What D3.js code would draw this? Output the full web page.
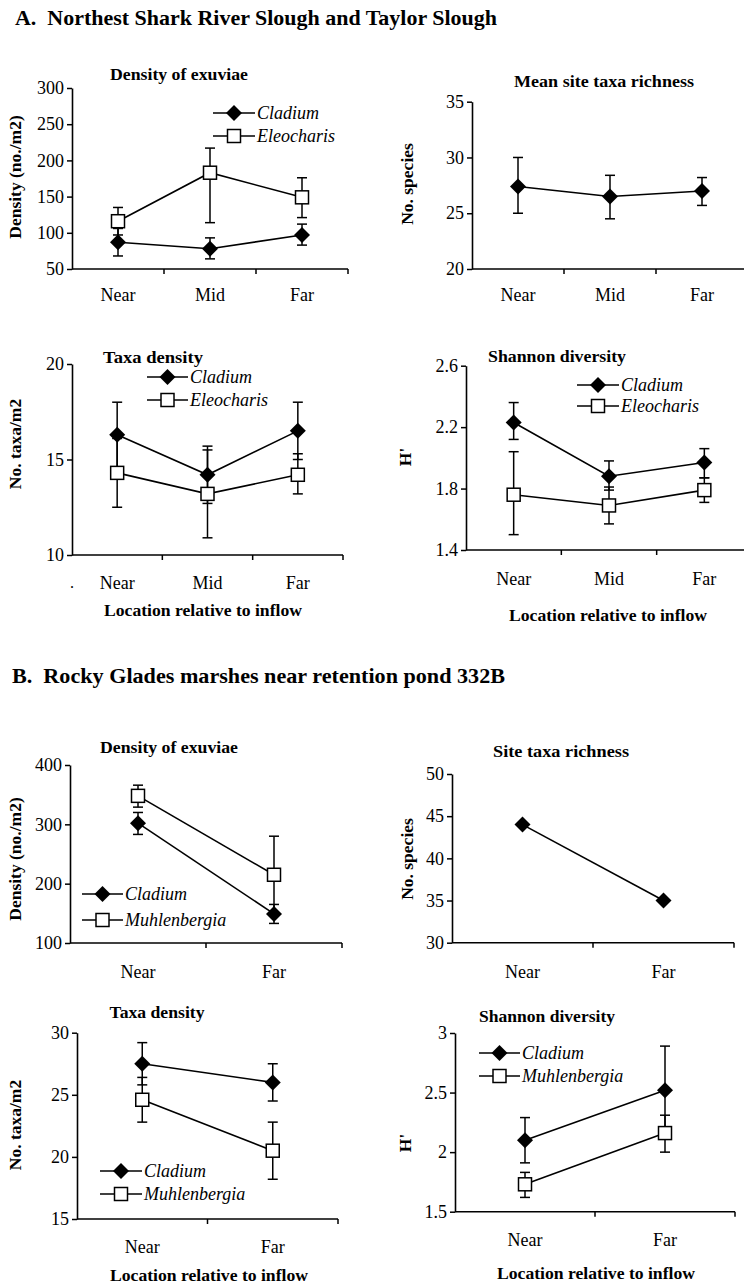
<!DOCTYPE html>
<html>
<head>
<meta charset="utf-8">
<script src="https://cdn.jsdelivr.net/npm/d3@7"></script>
<style>
  body { margin: 0; background: #fff; }
  svg { display: block; font-family: "Liberation Serif", "Times New Roman", serif; }
</style>
</head>
<body>
<div id="chart"></div>
<script>
// ---- data ----
const locA = ["Near", "Mid", "Far"];
const locB = ["Near", "Far"];

// A. Northest Shark River Slough and Taylor Slough
const densA_cladium = [87, 78, 97];
const densA_cladium_lo = [68, 64, 83];
const densA_cladium_hi = [106, 93, 112];
const densA_eleo = [116, 183, 149];
const densA_eleo_lo = [97, 114, 121];
const densA_eleo_hi = [135, 217, 176];

const richA = [27.4, 26.5, 27.0];
const richA_lo = [25.0, 24.5, 25.7];
const richA_hi = [30.0, 28.4, 28.2];

const taxaA_cladium = [16.3, 14.2, 16.5];
const taxaA_cladium_lo = [14.6, 12.7, 15.0];
const taxaA_cladium_hi = [18.0, 15.7, 18.0];
const taxaA_eleo = [14.3, 13.2, 14.2];
const taxaA_eleo_lo = [12.5, 10.9, 13.2];
const taxaA_eleo_hi = [16.1, 15.5, 15.3];

const shanA_cladium = [2.23, 1.88, 1.97];
const shanA_cladium_lo = [2.12, 1.79, 1.87];
const shanA_cladium_hi = [2.36, 1.98, 2.06];
const shanA_eleo = [1.76, 1.69, 1.79];
const shanA_eleo_lo = [1.50, 1.57, 1.71];
const shanA_eleo_hi = [2.04, 1.81, 1.87];

// B. Rocky Glades marshes near retention pond 332B
const densB_cladium = [302, 149];
const densB_cladium_lo = [283, 133];
const densB_cladium_hi = [320, 165];
const densB_muhl = [348, 215];
const densB_muhl_lo = [329, 150];
const densB_muhl_hi = [366, 280];

const richB = [44, 35];

const taxaB_cladium = [27.5, 26.0];
const taxaB_cladium_lo = [25.8, 24.5];
const taxaB_cladium_hi = [29.2, 27.5];
const taxaB_muhl = [24.6, 20.5];
const taxaB_muhl_lo = [22.8, 18.2];
const taxaB_muhl_hi = [26.4, 22.8];

const shanB_cladium = [2.10, 2.52];
const shanB_cladium_lo = [1.91, 2.16];
const shanB_cladium_hi = [2.29, 2.89];
const shanB_muhl = [1.73, 2.16];
const shanB_muhl_lo = [1.62, 2.00];
const shanB_muhl_hi = [1.83, 2.31];

// tick labels
const ticksDensA = [50, 100, 150, 200, 250, 300];
const ticksRichA = [20, 25, 30, 35];
const ticksTaxaA = [10, 15, 20];
const ticksShanA = [1.4, 1.8, 2.2, 2.6];
const labelsShanA = ["1.4", "1.8", "2.2", "2.6"];
const ticksDensB = [100, 200, 300, 400];
const ticksRichB = [30, 35, 40, 45, 50];
const ticksTaxaB = [15, 20, 25, 30];
const ticksShanB = [1.5, 2, 2.5, 3];
const labelsShanB = ["1.5", "2", "2.5", "3"];

// ---- layout ----
const width = 744, height = 1285;
const svg = d3.select("#chart").append("svg")
    .attr("width", width)
    .attr("height", height);

svg.append("text")
    .attr("x", 15).attr("y", 25)
    .attr("font-size", 22).attr("font-weight", "bold")
    .attr("textLength", 482).attr("lengthAdjust", "spacingAndGlyphs")
    .attr("xml:space", "preserve")
    .text("A.  Northest Shark River Slough and Taylor Slough");

svg.append("text")
    .attr("x", 12).attr("y", 683)
    .attr("font-size", 22).attr("font-weight", "bold")
    .attr("textLength", 493).attr("lengthAdjust", "spacingAndGlyphs")
    .attr("xml:space", "preserve")
    .text("B.  Rocky Glades marshes near retention pond 332B");

// stray dot in the scan
svg.append("text").attr("x", 70).attr("y", 588).attr("font-size", 16).text(".");

const diamond = (s) => `M0,${-s}L${s},0L0,${s}L${-s},0Z`;

const drawMarker = (g, kind, x, y) => {
  if (kind === "diamond") {
    g.append("path")
        .attr("d", diamond(8))
        .attr("transform", `translate(${x},${y})`)
        .attr("fill", "#000");
  } else {
    g.append("rect")
        .attr("x", x - 6.5).attr("y", y - 6.5)
        .attr("width", 13).attr("height", 13)
        .attr("fill", "#fff")
        .attr("stroke", "#000")
        .attr("stroke-width", 1.5);
  }
};

const drawPanel = (p) => {
  const g = svg.append("g");

  const x = d3.scaleBand().domain(p.cats).range([p.x0, p.x1]);
  const y = d3.scaleLinear().domain([p.ticks[0], p.ticks[p.ticks.length - 1]]).range([p.yBot, p.yTop]);

  // y axis
  const yAxis = g.append("g")
      .attr("transform", `translate(${p.x0},0)`)
      .call(d3.axisLeft(y)
        .tickValues(p.ticks)
        .tickSize(5)
        .tickSizeOuter(0)
        .tickPadding(3)
        .tickFormat((d, i) => p.tickLabels ? p.tickLabels[i] : d));
  yAxis.select(".domain").attr("stroke-width", 1.6);
  yAxis.selectAll(".tick line").attr("stroke-width", 1.5);
  yAxis.selectAll("text")
      .attr("font-family", "Liberation Serif")
      .attr("font-size", 18)
      .attr("fill", "#000");

  // x axis line with ticks between categories
  const boundaries = p.cats.map(c => x(c) + x.bandwidth());
  g.append("line")
      .attr("x1", p.x0).attr("x2", p.x1)
      .attr("y1", p.yBot).attr("y2", p.yBot)
      .attr("stroke", "#000").attr("stroke-width", 1.6);
  g.selectAll(".xtick")
      .data(boundaries)
      .join("line")
        .attr("class", "xtick")
        .attr("x1", d => d).attr("x2", d => d)
        .attr("y1", p.yBot).attr("y2", p.yBot + 5)
        .attr("stroke", "#000").attr("stroke-width", 1.5);
  g.selectAll(".xlab")
      .data(p.cats)
      .join("text")
        .attr("class", "xlab")
        .attr("x", d => x(d) + x.bandwidth() / 2)
        .attr("y", p.labY)
        .attr("text-anchor", "middle")
        .attr("font-size", 18)
        .text(d => d);

  // title
  g.append("text")
      .attr("x", p.title.x).attr("y", p.title.y)
      .attr("text-anchor", "middle")
      .attr("font-size", 17.5).attr("font-weight", "bold")
      .attr("textLength", p.title.len).attr("lengthAdjust", "spacingAndGlyphs")
      .text(p.title.text);

  // y label
  g.append("text")
      .attr("transform", `translate(${p.ylab.x},${p.ylab.y}) rotate(-90)`)
      .attr("text-anchor", "middle")
      .attr("dy", "0.35em")
      .attr("font-size", 17.5).attr("font-weight", "bold")
      .text(p.ylab.text);

  if (p.axTitle) {
    g.append("text")
        .attr("x", p.axTitle.x).attr("y", p.axTitle.y)
        .attr("text-anchor", "middle")
        .attr("font-size", 17.5).attr("font-weight", "bold")
        .attr("textLength", 198).attr("lengthAdjust", "spacingAndGlyphs")
        .text("Location relative to inflow");
  }

  const cx = c => x(c) + x.bandwidth() / 2;
  const line = d3.line().x(d => cx(d.cat)).y(d => y(d.v));

  p.series.forEach(s => {
    const pts = p.cats.map((c, i) => ({ cat: c, v: s.values[i], lo: s.lo ? s.lo[i] : null, hi: s.hi ? s.hi[i] : null }));

    // error bars
    pts.filter(d => d.lo !== null).forEach(d => {
      const xx = cx(d.cat);
      g.append("line")
          .attr("x1", xx).attr("x2", xx)
          .attr("y1", y(d.lo)).attr("y2", y(d.hi))
          .attr("stroke", "#000").attr("stroke-width", 1.5);
      [d.lo, d.hi].forEach(v => {
        g.append("line")
            .attr("x1", xx - 5).attr("x2", xx + 5)
            .attr("y1", y(v)).attr("y2", y(v))
            .attr("stroke", "#000").attr("stroke-width", 1.5);
      });
    });

    g.append("path")
        .datum(pts)
        .attr("d", line)
        .attr("fill", "none")
        .attr("stroke", "#000")
        .attr("stroke-width", 1.6);

    pts.forEach(d => drawMarker(g, s.marker, cx(d.cat), y(d.v)));
  });

  if (p.legend) {
    p.series.forEach((s, i) => {
      const ly = p.legend.y + i * p.legend.dy;
      g.append("line")
          .attr("x1", p.legend.x0).attr("x2", p.legend.x1)
          .attr("y1", ly).attr("y2", ly)
          .attr("stroke", "#000").attr("stroke-width", 1.6);
      drawMarker(g, s.marker, (p.legend.x0 + p.legend.x1) / 2, ly);
      g.append("text")
          .attr("x", p.legend.x1 + 2).attr("y", ly)
          .attr("dy", "0.35em")
          .attr("font-size", 18).attr("font-style", "italic")
          .text(s.name);
    });
  }
};

const cladium = (v, lo, hi) => ({ name: "Cladium", marker: "diamond", values: v, lo: lo, hi: hi });
const eleo = (v, lo, hi) => ({ name: "Eleocharis", marker: "square", values: v, lo: lo, hi: hi });
const muhl = (v, lo, hi) => ({ name: "Muhlenbergia", marker: "square", values: v, lo: lo, hi: hi });

const panels = [
  {
    cats: locA, x0: 72, x1: 348, yTop: 88, yBot: 269, ticks: ticksDensA, labY: 301,
    title: { text: "Density of exuviae", x: 179, y: 80, len: 138 },
    ylab: { text: "Density (no./m2)", x: 15, y: 177 },
    legend: { x0: 213, x1: 255, y: 113, dy: 23 },
    series: [cladium(densA_cladium, densA_cladium_lo, densA_cladium_hi), eleo(densA_eleo, densA_eleo_lo, densA_eleo_hi)]
  },
  {
    cats: locA, x0: 472, x1: 748, yTop: 101.7, yBot: 269, ticks: ticksRichA, labY: 301,
    title: { text: "Mean site taxa richness", x: 604, y: 87, len: 180 },
    ylab: { text: "No. species", x: 407, y: 184 },
    legend: null,
    series: [{ name: "", marker: "diamond", values: richA, lo: richA_lo, hi: richA_hi }]
  },
  {
    cats: locA, x0: 72, x1: 343, yTop: 364, yBot: 555, ticks: ticksTaxaA, labY: 589,
    title: { text: "Taxa density", x: 153, y: 363, len: 100 },
    ylab: { text: "No. taxa/m2", x: 15, y: 444 },
    axTitle: { x: 203, y: 616 },
    legend: { x0: 147, x1: 188, y: 377, dy: 23 },
    series: [cladium(taxaA_cladium, taxaA_cladium_lo, taxaA_cladium_hi), eleo(taxaA_eleo, taxaA_eleo_lo, taxaA_eleo_hi)]
  },
  {
    cats: locA, x0: 466, x1: 752, yTop: 365.7, yBot: 550, ticks: ticksShanA, tickLabels: labelsShanA, labY: 585,
    title: { text: "Shannon diversity", x: 557, y: 362, len: 138 },
    ylab: { text: "H'", x: 405, y: 457 },
    axTitle: { x: 608, y: 621 },
    legend: { x0: 577, x1: 619, y: 385, dy: 21 },
    series: [cladium(shanA_cladium, shanA_cladium_lo, shanA_cladium_hi), eleo(shanA_eleo, shanA_eleo_lo, shanA_eleo_hi)]
  },
  {
    cats: locB, x0: 70, x1: 342, yTop: 765, yBot: 943, ticks: ticksDensB, labY: 978,
    title: { text: "Density of exuviae", x: 169, y: 753, len: 138 },
    ylab: { text: "Density (no./m2)", x: 15, y: 859 },
    legend: { x0: 82, x1: 123, y: 894, dy: 26 },
    series: [cladium(densB_cladium, densB_cladium_lo, densB_cladium_hi), muhl(densB_muhl, densB_muhl_lo, densB_muhl_hi)]
  },
  {
    cats: locB, x0: 452, x1: 734, yTop: 774, yBot: 942.7, ticks: ticksRichB, labY: 978,
    title: { text: "Site taxa richness", x: 561, y: 757, len: 136 },
    ylab: { text: "No. species", x: 407, y: 859 },
    legend: null,
    series: [{ name: "", marker: "diamond", values: richB, lo: null, hi: null }]
  },
  {
    cats: locB, x0: 77, x1: 338, yTop: 1032.7, yBot: 1219, ticks: ticksTaxaB, labY: 1253,
    title: { text: "Taxa density", x: 157, y: 1018, len: 95 },
    ylab: { text: "No. taxa/m2", x: 15, y: 1125 },
    axTitle: { x: 209, y: 1281 },
    legend: { x0: 100, x1: 142, y: 1171, dy: 23 },
    series: [cladium(taxaB_cladium, taxaB_cladium_lo, taxaB_cladium_hi), muhl(taxaB_muhl, taxaB_muhl_lo, taxaB_muhl_hi)]
  },
  {
    cats: locB, x0: 455, x1: 735, yTop: 1033, yBot: 1211.7, ticks: ticksShanB, tickLabels: labelsShanB, labY: 1246,
    title: { text: "Shannon diversity", x: 547, y: 1022, len: 136 },
    ylab: { text: "H'", x: 405, y: 1143 },
    axTitle: { x: 596, y: 1279 },
    legend: { x0: 479, x1: 520, y: 1053, dy: 23 },
    series: [cladium(shanB_cladium, shanB_cladium_lo, shanB_cladium_hi), muhl(shanB_muhl, shanB_muhl_lo, shanB_muhl_hi)]
  }
];

panels.forEach(drawPanel);
</script>
</body>
</html>
